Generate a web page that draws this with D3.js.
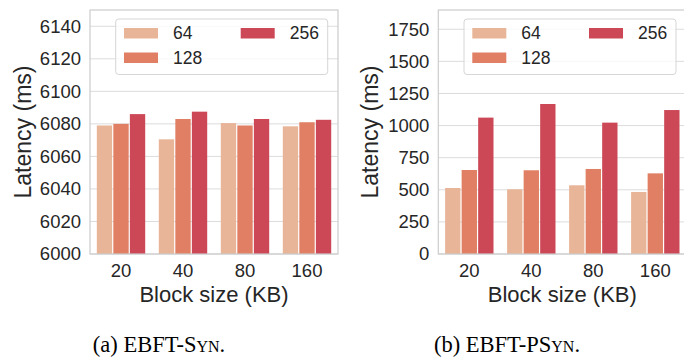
<!DOCTYPE html>
<html lang="en">
<head>
<meta charset="utf-8">
<title>EBFT latency by block size</title>
<script src="https://d3js.org/d3.v7.min.js"></script>
<style type="text/css">
  body { margin: 0; background: #fff; }
  .tick text { font-family: "Liberation Sans", Arial, sans-serif; font-size: 18.5px; fill: #262626; }
  .axis-title { font-family: "Liberation Sans", Arial, sans-serif; fill: #262626; }
  .legend text { font-family: "Liberation Sans", Arial, sans-serif; font-size: 17.5px; fill: #262626; }
  .caption { font-family: "Liberation Serif", "Times New Roman", serif; font-size: 22.5px; fill: #000; }
</style>
</head>
<body>
<div id="vis"></div>
<script type="text/javascript">

const width = 684;
const height = 360;

// categories and series
const blockSizes = ["20", "40", "80", "160"];
const seriesNames = ["64", "128", "256"];
const colors = ["#e8b598", "#e07f63", "#cc4857"];

// (a) EBFT-Syn latency (ms)
const syn64 = [6079, 6070.5, 6080.5, 6078.5];
const syn128 = [6080, 6083, 6079, 6081];
const syn256 = [6086, 6087.5, 6083, 6082.5];
const synTicks = [6000, 6020, 6040, 6060, 6080, 6100, 6120, 6140];

// (b) EBFT-PSyn latency (ms)
const psyn64 = [514, 504, 535, 483];
const psyn128 = [654, 652, 662, 628];
const psyn256 = [1062, 1168, 1023, 1121];
const psynTicks = [0, 250, 500, 750, 1000, 1250, 1500, 1750];

const svg = d3.select("#vis")
  .append("svg")
  .attr("width", width)
  .attr("height", height);

function drawPanel(left, right, series, ticks, yMin, yMax, titleX) {
  const top = 10, bottom = 254;
  const g = svg.append("g");

  const xScale = d3.scaleBand()
    .domain(blockSizes)
    .range([left, right])
    .paddingInner(0.2)
    .paddingOuter(0.1);

  const hueScale = d3.scaleBand()
    .domain(seriesNames)
    .range([0, xScale.bandwidth()]);

  const yScale = d3.scaleLinear()
    .domain([yMin, yMax])
    .range([bottom, top]);

  // grid
  g.selectAll(".grid")
    .data(ticks)
    .enter()
    .append("line")
    .attr("x1", left).attr("x2", right)
    .attr("y1", d => yScale(d)).attr("y2", d => yScale(d))
    .attr("stroke", "#dcdcdc")
    .attr("stroke-width", 1);

  // bars
  series.forEach((vals, si) => {
    g.selectAll(".bar" + si)
      .data(vals)
      .enter()
      .append("rect")
      .attr("x", (d, i) => xScale(blockSizes[i]) + hueScale(seriesNames[si]) + 0.6)
      .attr("y", d => yScale(d))
      .attr("width", hueScale.bandwidth() - 1.2)
      .attr("height", d => yScale(yMin) - yScale(d))
      .attr("fill", colors[si]);
  });

  // frame
  g.append("rect")
    .attr("x", left).attr("y", top)
    .attr("width", right - left).attr("height", bottom - top)
    .attr("fill", "none")
    .attr("stroke", "#cccccc")
    .attr("stroke-width", 1.2);

  // axes
  const leftAxis = d3.axisLeft(yScale).tickValues(ticks).tickFormat(d3.format("d")).tickSize(0).tickPadding(9);
  const ga = g.append("g").attr("transform", "translate(" + left + ",0)").call(leftAxis);
  ga.select(".domain").remove();

  const bottomAxis = d3.axisBottom(xScale).tickSize(0).tickPadding(10);
  const gb = g.append("g").attr("transform", "translate(0," + bottom + ")").call(bottomAxis);
  gb.select(".domain").remove();

  // axis titles
  g.append("text")
    .attr("class", "axis-title")
    .attr("transform", "translate(" + titleX + "," + ((top + bottom) / 2) + ") rotate(-90)")
    .attr("text-anchor", "middle")
    .attr("dy", "0.35em")
    .style("font-size", "23px")
    .text("Latency (ms)");

  g.append("text")
    .attr("class", "axis-title")
    .attr("x", xScale.range()[0] + (4 * xScale.step()) / 2)
    .attr("y", 302)
    .attr("text-anchor", "middle")
    .style("font-size", "22px")
    .text("Block size (KB)");

  // legend
  const lg = g.append("g")
    .attr("class", "legend")
    .attr("transform", "translate(" + (left + 25.7) + ",19)");
  lg.append("rect")
    .attr("width", 212).attr("height", 55.5)
    .attr("rx", 3)
    .attr("fill", "#fff").attr("fill-opacity", 0.8)
    .attr("stroke", "#d6d6d6").attr("stroke-width", 1);
  const spots = [[8.3, 14], [8.3, 38.5], [125, 14]];
  seriesNames.forEach((name, i) => {
    lg.append("rect")
      .attr("x", spots[i][0]).attr("y", spots[i][1] - 5)
      .attr("width", 34).attr("height", 10.5)
      .attr("fill", colors[i]);
    lg.append("text")
      .attr("x", spots[i][0] + 49).attr("y", spots[i][1])
      .attr("dy", "0.35em")
      .text(name);
  });
}

drawPanel(90, 338, [syn64, syn128, syn256], synTicks, 6000, 6150, 23);
drawPanel(438.3, 686.3, [psyn64, psyn128, psyn256], psynTicks, 0, 1900, 370);

// captions
const capA = svg.append("text").attr("class", "caption").attr("x", 159).attr("y", 351.7).attr("text-anchor", "middle");
capA.append("tspan").text("(a) EBFT-");
capA.append("tspan").style("font-variant", "small-caps").text("Syn");
capA.append("tspan").text(".");

const capB = svg.append("text").attr("class", "caption").attr("x", 507).attr("y", 351.7).attr("text-anchor", "middle");
capB.append("tspan").text("(b) EBFT-P");
capB.append("tspan").style("font-variant", "small-caps").text("Syn");
capB.append("tspan").text(".");

</script>
</body>
</html>
